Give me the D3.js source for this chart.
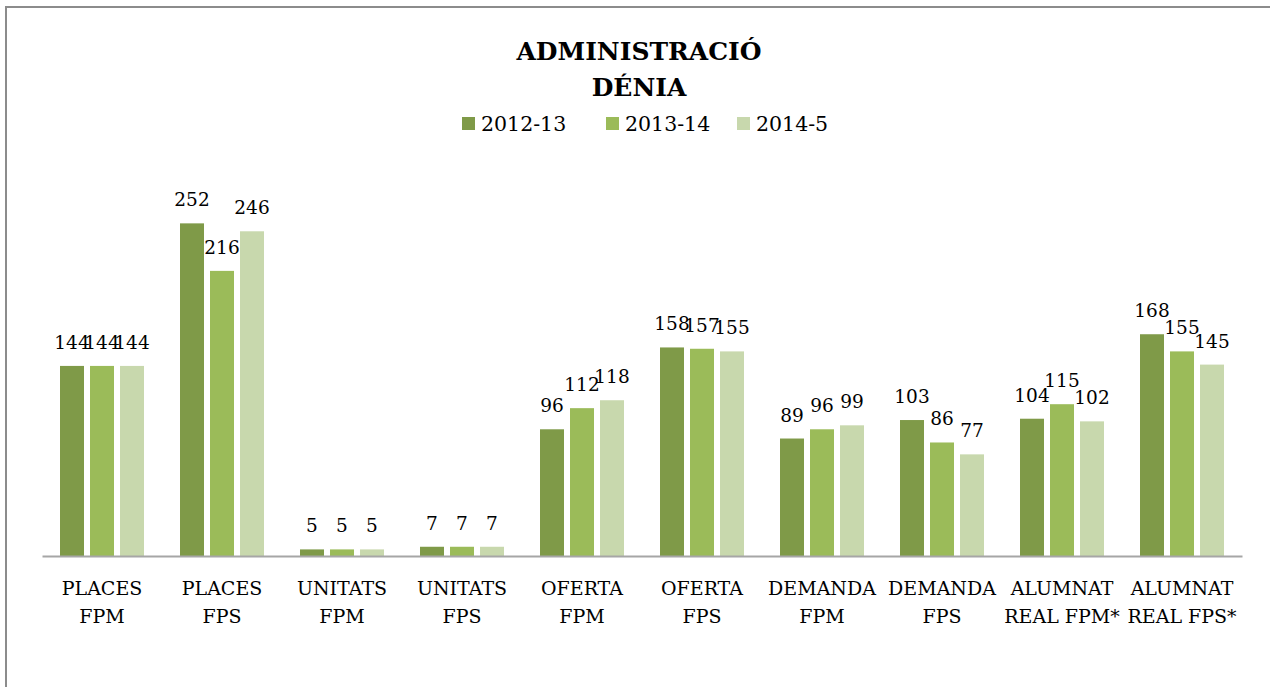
<!DOCTYPE html>
<html>
<head>
<meta charset="utf-8">
<script src="https://cdn.jsdelivr.net/npm/d3@7"></script>
<style>
  body { margin: 0; background: #fff; }
  svg { display: block; }
</style>
</head>
<body>
<svg id="chart" width="1270" height="687"></svg>
<script>
const categories = [
  ["PLACES", "FPM"], ["PLACES", "FPS"], ["UNITATS", "FPM"], ["UNITATS", "FPS"],
  ["OFERTA", "FPM"], ["OFERTA", "FPS"], ["DEMANDA", "FPM"], ["DEMANDA", "FPS"],
  ["ALUMNAT", "REAL FPM*"], ["ALUMNAT", "REAL FPS*"]
];
const seriesNames = ["2012-13", "2013-14", "2014-5"];
const values2012 = [144, 252, 5, 7, 96, 158, 89, 103, 104, 168];
const values2013 = [144, 216, 5, 7, 112, 157, 96, 86, 115, 155];
const values2014 = [144, 246, 5, 7, 118, 155, 99, 77, 102, 145];
const colors = ["#7f9a48", "#9bbb59", "#c8d8ad"];

const series = [values2012, values2013, values2014];
const width = 1270, height = 687;
const margin = { top: 160, left: 42, right: 28, bottom: 131 };
const innerH = height - margin.top - margin.bottom;

const svg = d3.select("#chart");
const serif = "'DejaVu Serif', serif";

// frame
svg.append("path")
  .attr("d", `M6,${height} V7 H${width}`)
  .attr("fill", "none").attr("stroke", "#8c8c8c").attr("stroke-width", 2);

// title
svg.append("text").attr("x", 639).attr("y", 60).attr("text-anchor", "middle")
  .attr("font-family", serif).attr("font-weight", "bold").attr("font-size", 25)
  .text("ADMINISTRACIÓ");
svg.append("text").attr("x", 639).attr("y", 96).attr("text-anchor", "middle")
  .attr("font-family", serif).attr("font-weight", "bold").attr("font-size", 25)
  .text("DÉNIA");

// legend
const legendX = [462, 606, 737];
const legend = svg.append("g");
seriesNames.forEach((name, i) => {
  legend.append("rect").attr("x", legendX[i]).attr("y", 117).attr("width", 13).attr("height", 13)
    .attr("fill", colors[i]);
  legend.append("text").attr("x", legendX[i] + 19).attr("y", 131)
    .attr("font-family", serif).attr("font-size", 20.5).text(name);
});

const x = d3.scaleBand().domain(d3.range(categories.length))
  .range([margin.left, width - margin.right]).paddingInner(0).paddingOuter(0);
const xs = d3.scaleBand().domain(d3.range(series.length))
  .range([18, 102]).paddingInner(0.2).paddingOuter(0);
const y = d3.scaleLinear().domain([0, 300]).range([margin.top + innerH, margin.top]);

const groups = svg.append("g").selectAll("g").data(categories).join("g")
  .attr("transform", (d, i) => `translate(${x(i)},0)`);

series.forEach((vals, s) => {
  groups.append("rect")
    .attr("x", xs(s))
    .attr("width", xs.bandwidth())
    .attr("y", (d, i) => y(vals[i]))
    .attr("height", (d, i) => y(0) - y(vals[i]))
    .attr("fill", colors[s]);
  groups.append("text")
    .attr("x", xs(s) + xs.bandwidth() / 2)
    .attr("y", (d, i) => y(vals[i]) - 17)
    .attr("text-anchor", "middle")
    .attr("font-family", serif).attr("font-size", 18.5)
    .text((d, i) => vals[i]);
});

// axis
const xAxis = d3.axisBottom(x).tickSize(0).tickFormat("");
const axisG = svg.append("g").attr("transform", `translate(0,${y(0)})`).call(xAxis);
axisG.select(".domain").attr("stroke", "#a6a6a6").attr("stroke-width", 2);

axisG.selectAll(".tick").each(function (d) {
  const t = d3.select(this).append("text")
    .attr("fill", "#000").attr("text-anchor", "middle")
    .attr("font-family", serif).attr("font-size", 19)
    .attr("x", 0);
  categories[d].forEach((line, k) => {
    t.append("tspan").attr("x", 0).attr("y", 39 + k * 28).text(line);
  });
});
</script>
</body>
</html>
